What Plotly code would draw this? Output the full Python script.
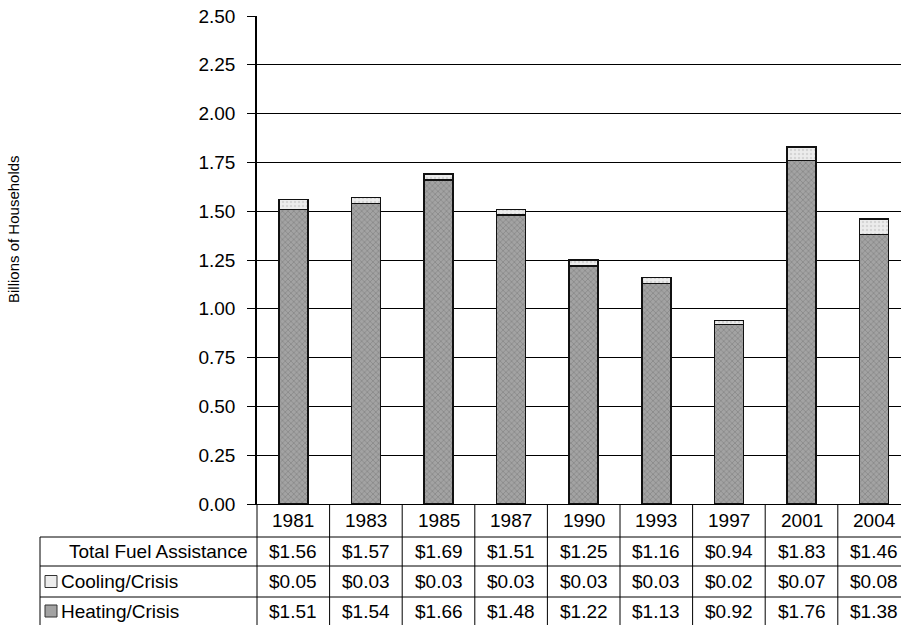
import plotly.graph_objects as go

years = ["1981", "1983", "1985", "1987", "1990", "1993", "1997", "2001", "2004"]
heating = [1.51, 1.54, 1.66, 1.48, 1.22, 1.13, 0.92, 1.76, 1.38]
cooling = [0.05, 0.03, 0.03, 0.03, 0.03, 0.03, 0.02, 0.07, 0.08]
totals = [1.56, 1.57, 1.69, 1.51, 1.25, 1.16, 0.94, 1.83, 1.46]
row_labels = ["Total Fuel Assistance", "Cooling/Crisis", "Heating/Crisis"]
y_ticks = [0, 0.25, 0.5, 0.75, 1.0, 1.25, 1.5, 1.75, 2.0, 2.25, 2.5]

W, H = 901, 625
L, T, B = 257, 16, 121
plot_h = H - T - B
plot_w = W - L
cat_w = 72.6  # pixel width of one category slot

HEAT_BG, HEAT_FG = "#a3a3a3", "#6a6a6a"
COOL_BG, COOL_FG = "#ececec", "#bdbdbd"
FONT = "Arial, Liberation Sans, sans-serif"
FS = 19

x_idx = list(range(len(years)))

fig = go.Figure()
fig.add_trace(go.Bar(
    x=x_idx, y=heating, name=row_labels[2],
    marker=dict(color=HEAT_BG, line=dict(color="#111111", width=1.5),
                pattern=dict(shape="x", fgcolor=HEAT_FG, bgcolor=HEAT_BG, size=4, solidity=0.35)),
))
fig.add_trace(go.Bar(
    x=x_idx, y=cooling, name=row_labels[1],
    marker=dict(color=COOL_BG, line=dict(color="#111111", width=1.5),
                pattern=dict(shape=".", fgcolor=COOL_FG, bgcolor=COOL_BG, size=4, solidity=0.3)),
))

x_max = -0.5 + plot_w / cat_w


def py(pix):
    """pixel row -> paper y"""
    return (H - B - pix) / plot_h


def px(pix):
    """pixel column -> paper x"""
    return (pix - L) / plot_w


shapes = []
annotations = []
line = dict(color="black", width=1)

# table grid
y_bottom = py(H)
y_rows = [py(537), py(566), py(597)]
for yr in y_rows:
    shapes.append(dict(type="line", xref="paper", yref="paper", x0=px(40), x1=1, y0=yr, y1=yr, line=line))
shapes.append(dict(type="line", xref="paper", yref="paper", x0=px(40), x1=px(40), y0=y_rows[0], y1=y_bottom, line=line))
shapes.append(dict(type="line", xref="paper", yref="paper", x0=0, x1=0, y0=0, y1=y_bottom, line=line))
for k in x_idx:
    shapes.append(dict(type="line", xref="x", yref="paper", x0=k + 0.5, x1=k + 0.5, y0=0, y1=y_bottom, line=line))

# legend keys in the table
for center, bg in [(581.5, COOL_BG), (611, HEAT_BG)]:
    shapes.append(dict(type="rect", xref="paper", yref="paper",
                       x0=px(45), x1=px(57), y0=py(center + 6), y1=py(center - 6),
                       fillcolor=bg, line=dict(color="#333333", width=1)))

row_centers = [520.5, 551.5, 581.5, 611]
tf = dict(family=FONT, size=FS, color="black")
for k, yr in enumerate(years):
    annotations.append(dict(x=k, y=py(row_centers[0]), xref="x", yref="paper", text=yr,
                            showarrow=False, font=tf, xanchor="center", yanchor="middle"))
    for r, vals in enumerate([totals, cooling, heating]):
        annotations.append(dict(x=k, y=py(row_centers[r + 1]), xref="x", yref="paper",
                                text=f"${vals[k]:.2f}", showarrow=False, font=tf,
                                xanchor="center", yanchor="middle"))

annotations.append(dict(x=px(249), y=py(row_centers[1]), xref="paper", yref="paper",
                        text=row_labels[0], showarrow=False, font=tf, xanchor="right", yanchor="middle"))
for r in (1, 2):
    annotations.append(dict(x=px(59), y=py(row_centers[r + 1]), xref="paper", yref="paper",
                            text=row_labels[r], showarrow=False, font=tf, xanchor="left", yanchor="middle"))

# y-axis title
annotations.append(dict(x=px(13), y=py(229), xref="paper", yref="paper",
                        text="Billions of Households", textangle=-90, showarrow=False,
                        font=dict(family=FONT, size=15, color="black"),
                        xanchor="center", yanchor="middle"))

fig.update_layout(
    width=W, height=H,
    margin=dict(l=L, r=0, t=T, b=B, pad=0),
    paper_bgcolor="white", plot_bgcolor="white",
    barmode="stack", bargap=0.6,
    showlegend=False,
    shapes=shapes, annotations=annotations,
    font=dict(family=FONT, color="black"),
)
fig.update_xaxes(range=[-0.5, x_max], showticklabels=False, showgrid=False, zeroline=False,
                 showline=True, linecolor="black", linewidth=1, ticks="")
fig.update_yaxes(range=[0, 2.5], tickvals=y_ticks, tickformat=".2f",
                 showgrid=True, gridcolor="black", gridwidth=1, zeroline=False,
                 showline=True, linecolor="black", linewidth=1.5,
                 ticks="outside", ticklen=8, tickcolor="black", ticklabelstandoff=8,
                 tickfont=dict(family=FONT, size=FS, color="black"))

fig.write_html("out.html")
